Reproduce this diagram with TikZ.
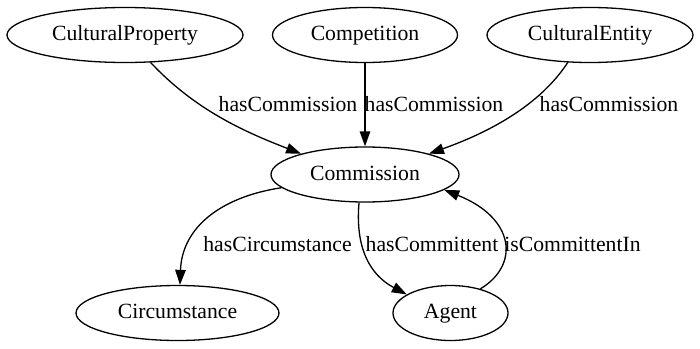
\documentclass[tikz,border=0pt]{standalone}
\usepackage{fontspec}
\setmainfont{Liberation Serif}
\usetikzlibrary{shapes.geometric,arrows.meta}
\begin{document}
\begin{tikzpicture}[x=1pt,y=-1pt,
  font=\fontsize{21.7}{26}\selectfont,
  concept/.style={draw,ellipse,line width=1.3pt,inner sep=0pt,minimum height=55pt,
    text height=14.6pt,text depth=3.6pt},
  rel/.style={draw,line width=1.3pt,-{Triangle[length=15pt,width=10.5pt]}},
  lbl/.style={anchor=base,inner sep=0pt}]
\useasboundingbox (0,0) rectangle (700,348);

% classes
\node[concept,minimum width=236pt] (cp)   at (125,35)    {CulturalProperty};
\node[concept,minimum width=185pt] (comp) at (365,35)    {Competition};
\node[concept,minimum width=206pt] (ce)   at (590,35)    {CulturalEntity};
\node[concept,minimum width=188pt] (cm)   at (365,174.5) {Commission};
\node[concept,minimum width=203pt] (circ) at (177.5,313) {Circumstance};
\node[concept,minimum width=115pt] (ag)   at (450.5,313) {Agent};

% properties
\draw[rel] (cp.-47) .. controls (195,110) and (245,132) .. (cm.162);
\draw[rel] (comp.south) -- (cm.north);
\draw[rel] (ce.-129) .. controls (540,105) and (490,132) .. (cm.18);
\draw[rel] (cm.-171) .. controls (220,197) and (182,228) .. (circ.85);
\draw[rel] (cm.-102) .. controls (355,248) and (370,275) .. (ag.157);
\draw[rel] (ag.39) .. controls (520,265) and (515,218) .. (cm.-11);

% property labels
\node[lbl] (l1) at (288,111)   {hasCommission};
\node[lbl] (l2) at (434,111)   {hasCommission};
\node[lbl] (l3) at (609,111)   {hasCommission};
\node[lbl] (l4) at (277.5,251) {hasCircumstance};
\node[lbl] (l5) at (432,251)   {hasCommittent};
\node[lbl] (l6) at (572.5,251) {isCommittentIn};
\end{tikzpicture}
\end{document}
